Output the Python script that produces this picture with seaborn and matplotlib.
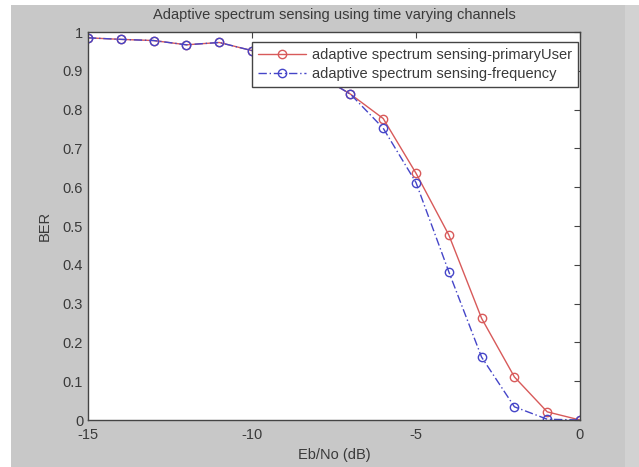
import matplotlib
matplotlib.use("Agg")
import matplotlib.pyplot as plt
import seaborn as sns
import pandas as pd
from matplotlib.patches import Rectangle

# ---- data ----
ebno = [-15, -14, -13, -12, -11, -10, -9, -8, -7, -6, -5, -4, -3, -2, -1, 0]
ber_primary = [0.985, 0.981, 0.978, 0.967, 0.973, 0.952, 0.925, 0.89, 0.84,
               0.777, 0.636, 0.477, 0.262, 0.111, 0.021, 0.0]
ber_frequency = [0.985, 0.981, 0.978, 0.967, 0.973, 0.952, 0.925, 0.89, 0.84,
                 0.752, 0.612, 0.382, 0.162, 0.034, 0.002, 0.0]
series_names = ["adaptive spectrum sensing-primaryUser",
                "adaptive spectrum sensing-frequency"]
x_ticks = [-15, -10, -5, 0]
x_tick_labels = ["-15", "-10", "-5", "0"]
y_ticks = [0, 0.1, 0.2, 0.3, 0.4, 0.5, 0.6, 0.7, 0.8, 0.9, 1]
y_tick_labels = ["0", "0.1", "0.2", "0.3", "0.4", "0.5", "0.6", "0.7", "0.8", "0.9", "1"]

df = pd.DataFrame({
    "x": ebno * 2,
    "y": ber_primary + ber_frequency,
    "series": [series_names[0]] * len(ebno) + [series_names[1]] * len(ebno),
})

sns.set_style("white")
plt.rcParams["font.family"] = ["Liberation Sans", "DejaVu Sans"]

text_color = "#3a3a3a"
fs = 10.5
fig = plt.figure(figsize=(6.39, 4.67), dpi=100)
fig.patch.set_facecolor("white")
# gray MATLAB figure background
fig.patches.append(Rectangle((11 / 639, 0), (625 - 11) / 639, 1 - 5 / 467,
                             transform=fig.transFigure, facecolor="#c8c8c8",
                             edgecolor="none", zorder=-10))
fig.patches.append(Rectangle((625 / 639, 0), 14 / 639, 1 - 5 / 467,
                             transform=fig.transFigure, facecolor="#d2d2d2",
                             edgecolor="none", zorder=-10))

L, R, T, B = 88, 580, 32, 420
ax = fig.add_axes([L / 639, 1 - B / 467, (R - L) / 639, (B - T) / 467])
ax.set_facecolor("white")

colors = {series_names[0]: "#d85a5a", series_names[1]: "#4545c8"}
dashes = {series_names[0]: "", series_names[1]: (6, 2, 1, 2)}
sns.lineplot(data=df, x="x", y="y", hue="series", style="series",
             palette=colors, dashes=dashes, markers={series_names[0]: "o", series_names[1]: "o"},
             markersize=6, markerfacecolor="none", markeredgewidth=1.0,
             linewidth=1.0, ax=ax)
for line, name in zip(ax.get_lines(), series_names):
    line.set_markeredgecolor(colors[name])
    line.set_markerfacecolor("none")

ax.set_xlim(-15, 0)
ax.set_ylim(0, 1)
ax.set_xticks(x_ticks)
ax.set_xticklabels(x_tick_labels)
ax.set_yticks(y_ticks)
ax.set_yticklabels(y_tick_labels)
ax.tick_params(direction="in", length=4, width=0.8, colors="#444444",
               labelcolor=text_color, labelsize=fs, top=True, right=True)
ax.tick_params(axis="x", pad=5.5)
ax.tick_params(axis="y", pad=3.5)
for s in ax.spines.values():
    s.set_visible(True)
    s.set_color("#444444")
    s.set_linewidth(1.0)

ax.set_xlabel("Eb/No (dB)", fontsize=fs, color=text_color, labelpad=4.5)
ax.set_ylabel("BER", fontsize=fs, color=text_color, labelpad=8)
ax.set_title("Adaptive spectrum sensing using time varying channels",
             fontsize=fs, color=text_color, pad=9)

handles, labels = ax.get_legend_handles_labels()
for h, name in zip(handles, series_names):
    h.set_markeredgecolor(colors[name])
    h.set_markerfacecolor("none")
leg = ax.legend(handles, labels, loc="upper right",
                bbox_to_anchor=((578 - L) / (R - L), (B - 42) / (B - T)),
                fontsize=fs, frameon=True, fancybox=False, borderaxespad=0,
                handlelength=3.3, borderpad=0.4, labelspacing=0.35,
                handletextpad=0.4)
leg.get_frame().set_edgecolor("#444444")
leg.get_frame().set_linewidth(1.0)
leg.get_frame().set_alpha(1)
for t in leg.get_texts():
    t.set_color(text_color)

fig.savefig("out.png", dpi=100)
